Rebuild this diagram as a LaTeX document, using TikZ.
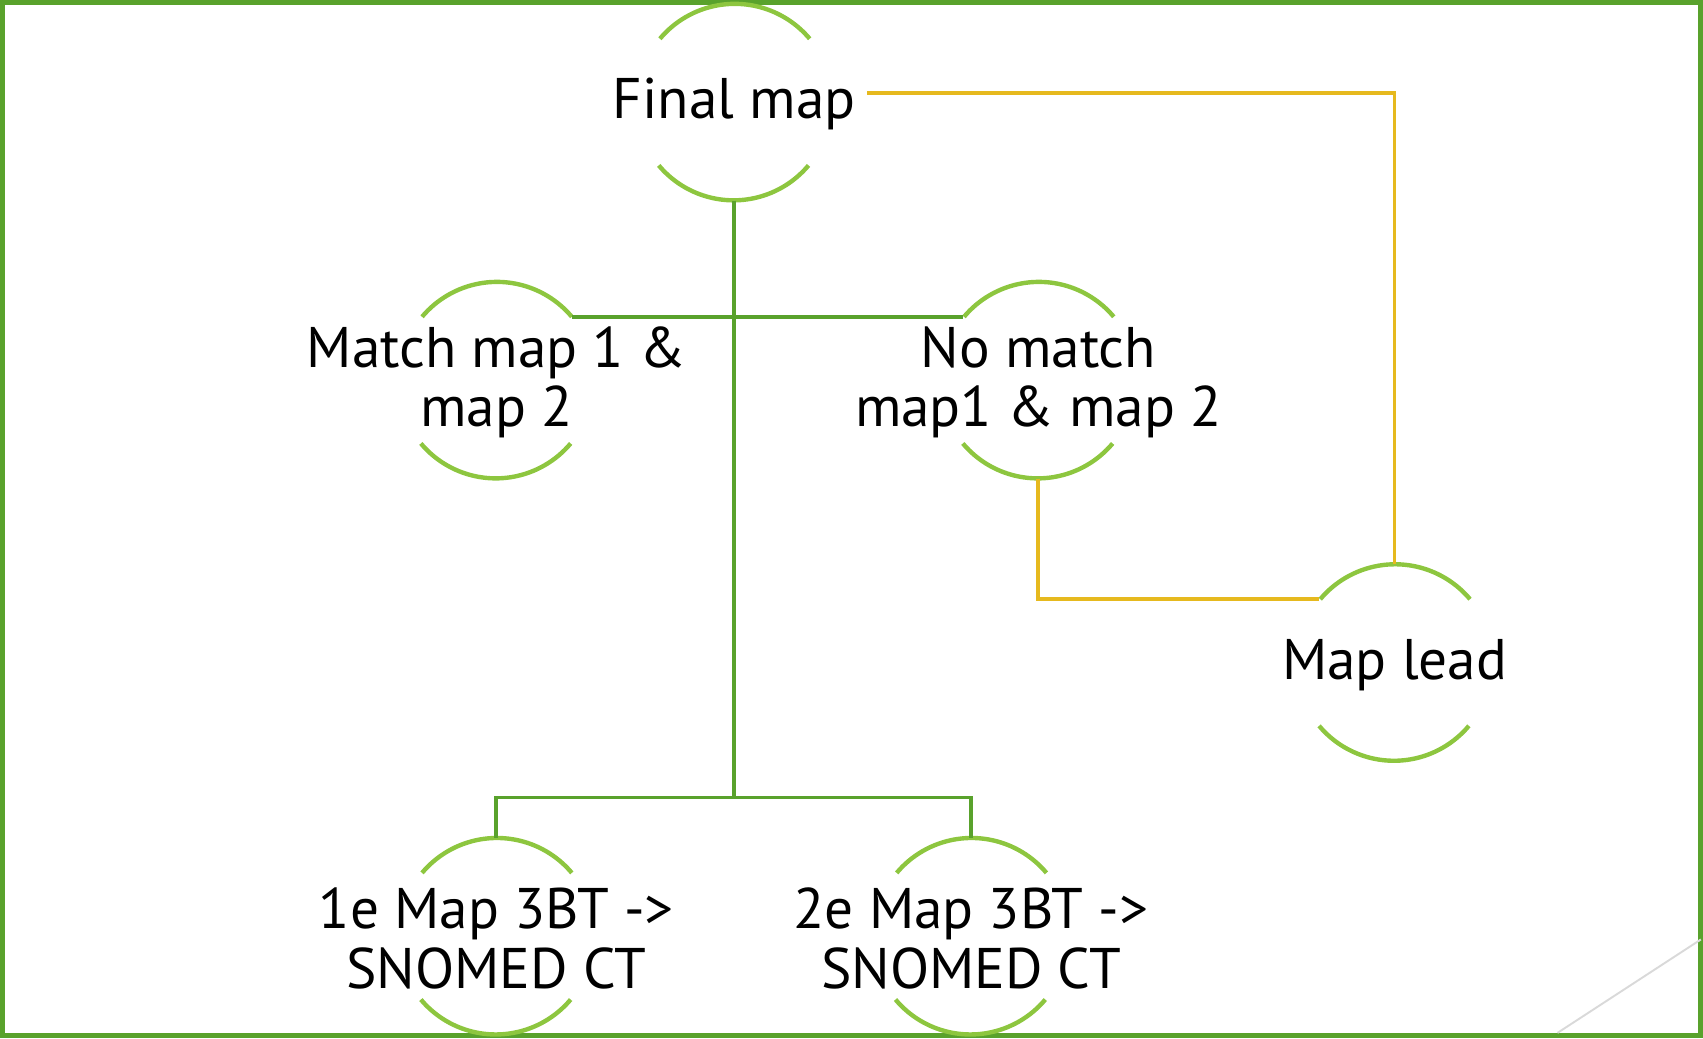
\documentclass[tikz,border=0pt]{standalone}
\usepackage{fontspec}
\setmainfont{PT Sans}
\usetikzlibrary{positioning}

\definecolor{framegreen}{HTML}{59A22C}
\definecolor{ringgreen}{HTML}{8DC63F}
\definecolor{leadyellow}{HTML}{E6B91E}
\definecolor{cornergray}{HTML}{D9D9D9}

\begin{document}
\begin{tikzpicture}[
    on grid,
    ring/.style={circle,minimum size=1.8cm,inner sep=0pt},
    txt/.style={align=center,inner sep=0pt,yshift=-0.02cm,font=\fontsize{15pt}{15.6pt}\selectfont},
    arcline/.style={ringgreen,line width=1.15pt},
    tree/.style={framegreen,line width=1pt},
    leadline/.style={leadyellow,line width=1pt}
    ]

    \useasboundingbox (0,0) rectangle (15.68,-9.56);
    \draw[framegreen,line width=1.4pt] (0.025,-0.025) rectangle (15.655,-9.535);
    \draw[cornergray,line width=0.5pt] (14.34,-9.51) -- (15.66,-8.65);

    \node[ring] (final) at (6.76,-0.94) {};
    \node[ring, below left=2.56cm and 2.19cm of final] (match) {};
    \node[ring, right=4.99cm of match] (nomatch) {};
    \node[ring, below right=2.6cm and 3.28cm of nomatch] (lead) {};
    \node[ring, below=5.12cm of match] (first) {};
    \node[ring, right=4.37cm of first] (second) {};

    \node[txt] (finaltxt) at (final) {Final map};
    \node[txt] (matchtxt) at (match) {Match map 1 \&\\map 2};
    \node[txt] (nomatchtxt) at (nomatch) {No match\\map1 \& map 2};
    \node[txt] (leadtxt) at (lead) {Map lead};
    \node[txt] (firsttxt) at (first) {1e Map 3BT ->\\SNOMED CT};
    \node[txt] (secondtxt) at (second) {2e Map 3BT ->\\SNOMED CT};

    \foreach \n in {final,match,nomatch,lead,first,second} {
      \draw[arcline] (\n.40) arc[start angle=40,end angle=140,radius=0.9cm];
      \draw[arcline] (\n.220) arc[start angle=220,end angle=320,radius=0.9cm];
    }

    \coordinate[above=0.37cm of first.north] (fork);
    \coordinate[right=0.1cm of finaltxt.east] (finalout);

    \draw[tree] (final.south) -- (final.south |- fork);
    \draw[tree] (first.north) |- (fork) -| (second.north);
    \draw[tree] (match.40) -- (nomatch.140);

    \draw[leadline] ([yshift=0.1cm]finalout) -| (lead.north);
    \draw[leadline] (nomatch.south) |- (lead.140);

  \end{tikzpicture}
\end{document}
